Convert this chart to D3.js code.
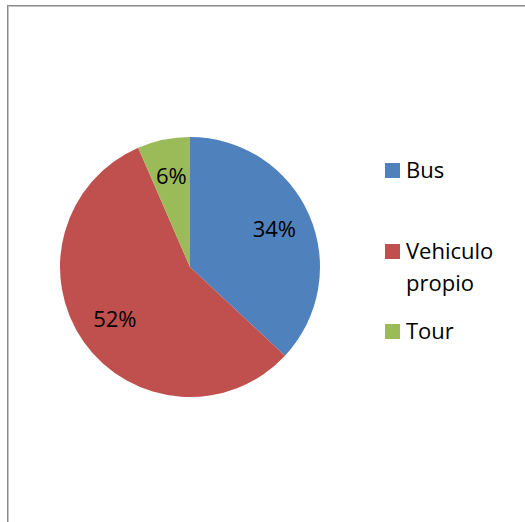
<!DOCTYPE html>
<html>
<head>
<meta charset="utf-8">
<script src="https://cdn.jsdelivr.net/npm/d3@7"></script>
<style>
  body { margin: 0; background: #fff; }
  text { font-family: "Open Sans", "Noto Sans", sans-serif; }
</style>
</head>
<body>
<svg id="pie-chart"></svg>
<script>
// chart data
const categories = ["Bus", "Vehiculo propio", "Tour"];
const values = [34, 52, 6];
const labels = ["34%", "52%", "6%"];
const colors = ["#4F81BD", "#C0504D", "#9BBB59"];

const width = 525;
const height = 522;
const cx = 190;
const cy = 267;
const radius = 130;

const svg = d3.select('#pie-chart')
  .attr('width', width)
  .attr('height', height);

// chart area frame (right and bottom edges fall outside the picture)
svg.append('rect')
  .attr('x', 7.5)
  .attr('y', 5.5)
  .attr('width', 600)
  .attr('height', 600)
  .style('fill', 'none')
  .style('stroke', '#8a8a8a')
  .style('stroke-width', 1);
svg.append('rect')
  .attr('x', 8.5)
  .attr('y', 6.5)
  .attr('width', 600)
  .attr('height', 600)
  .style('fill', 'none')
  .style('stroke', '#c4c4c4')
  .style('stroke-width', 1);

const data = categories.map((c, i) => ({ name: c, value: values[i], label: labels[i] }));

const color = d3.scaleOrdinal()
  .domain(categories)
  .range(colors);

const pie = d3.pie()
  .sort(null)
  .value(d => d.value);

const arc = d3.arc()
  .innerRadius(0)
  .outerRadius(radius);

const labelArc = d3.arc()
  .innerRadius(92)
  .outerRadius(92);

const g = svg.append('g')
  .attr('transform', `translate(${cx}, ${cy})`);

const slices = pie(data);

g.selectAll('path')
  .data(slices)
  .enter()
  .append('path')
  .attr('d', arc)
  .style('fill', d => color(d.data.name));

g.selectAll('.pct')
  .data(slices)
  .enter()
  .append('text')
  .attr('class', 'pct')
  .attr('transform', d => `translate(${labelArc.centroid(d)})`)
  .attr('text-anchor', 'middle')
  .attr('dy', '0.3em')
  .style('font-size', '22px')
  .style('fill', '#000')
  .text(d => d.data.label);

// legend
const legendRows = [
  { name: "Bus", lines: ["Bus"], y: 163 },
  { name: "Vehiculo propio", lines: ["Vehiculo", "propio"], y: 244 },
  { name: "Tour", lines: ["Tour"], y: 324 }
];

const legend = svg.selectAll('.legend')
  .data(legendRows)
  .enter().append('g')
  .attr('class', 'legend')
  .attr('transform', d => `translate(385, ${d.y})`);

legend.append('rect')
  .attr('width', 15)
  .attr('height', 15)
  .style('fill', d => color(d.name));

legend.each(function(d) {
  const t = d3.select(this).append('text')
    .attr('x', 21)
    .attr('y', 15)
    .style('font-size', '22px')
    .style('fill', '#000');
  d.lines.forEach((line, i) => {
    t.append('tspan')
      .attr('x', 21)
      .attr('dy', i === 0 ? 0 : 32)
      .text(line);
  });
});
</script>
</body>
</html>
